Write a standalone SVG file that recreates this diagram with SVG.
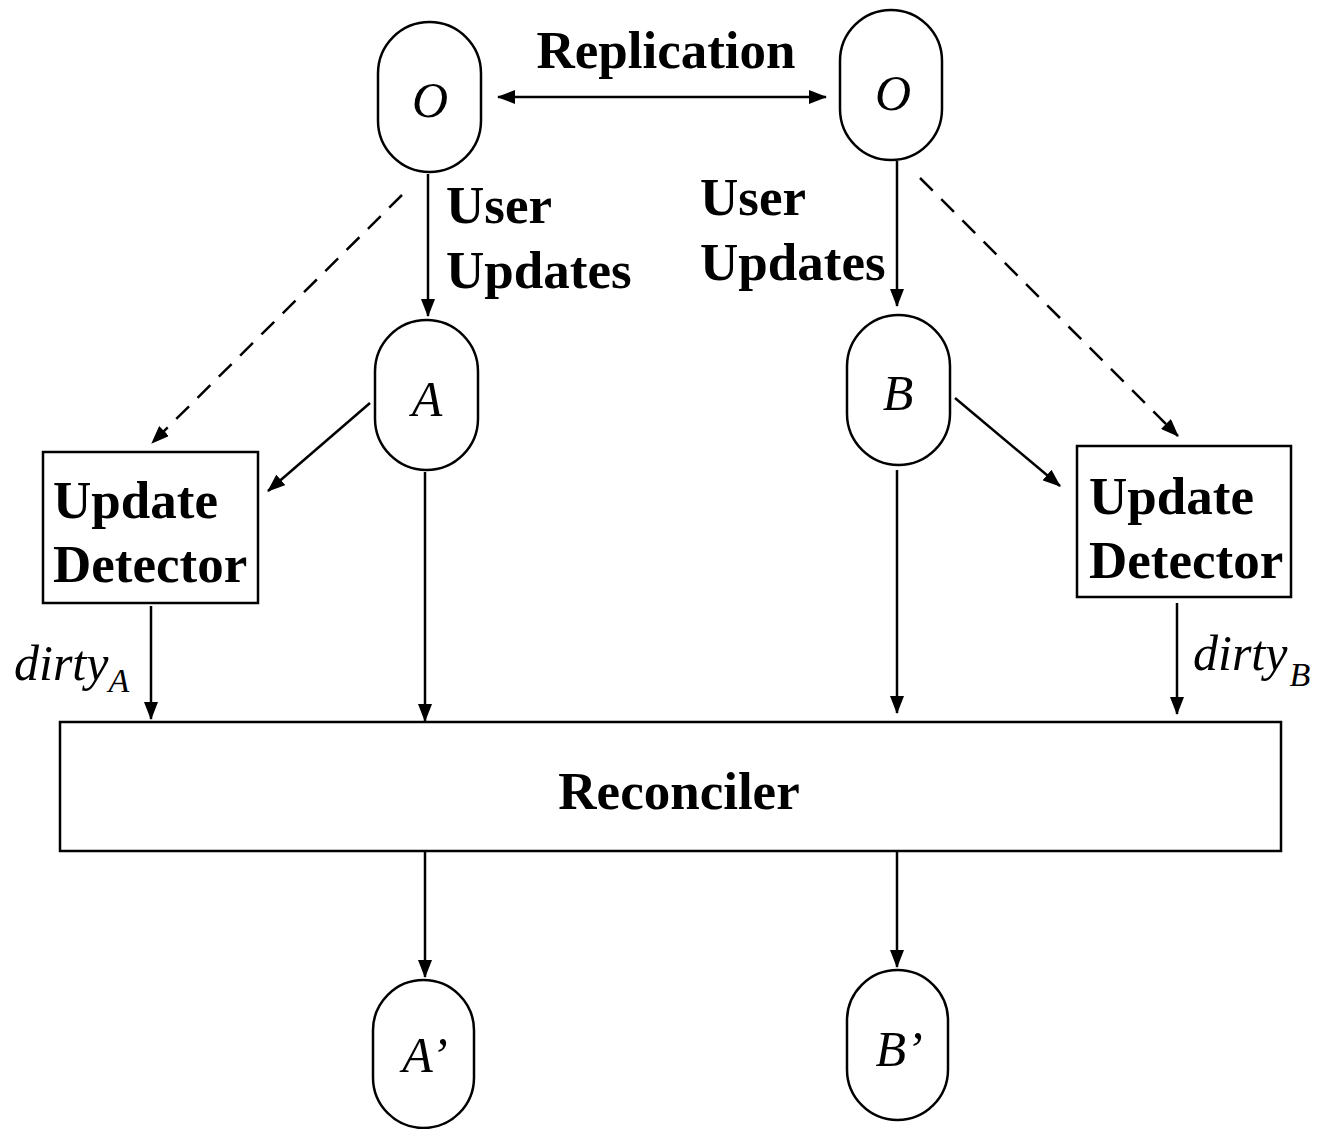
<svg xmlns="http://www.w3.org/2000/svg" width="1318" height="1129" viewBox="0 0 1318 1129">
<style>
.node{fill:#fff;stroke:#000;stroke-width:2.5}
.lbl{font-family:"Liberation Serif",serif;font-weight:bold;font-size:53px;fill:#000}
.it{font-family:"Liberation Serif",serif;font-style:italic;font-size:50px;fill:#000}
.edge{stroke:#000;stroke-width:2.5;fill:none;marker-end:url(#ah)}
.dash{stroke-dasharray:18 12}
</style>
<defs>
<marker id="ah" viewBox="0 0 18 14" refX="17" refY="7" markerWidth="18" markerHeight="14" markerUnits="userSpaceOnUse" orient="auto-start-reverse">
<path d="M0,0 L18,7 L0,14 z" fill="#000"/>
</marker>
</defs>
<rect width="1318" height="1129" fill="#fff"/>
<g id="connectors">
<line class="edge" x1="498" y1="97" x2="826" y2="97" style="marker-start:url(#ah)"/>
<line class="edge" x1="428" y1="174" x2="428" y2="316"/>
<line class="edge" x1="897" y1="161" x2="897" y2="306"/>
<line class="edge dash" x1="402" y1="195" x2="152" y2="443"/>
<line class="edge dash" x1="920" y1="178" x2="1178" y2="436"/>
<line class="edge" x1="370" y1="403" x2="268" y2="491"/>
<line class="edge" x1="955" y1="398" x2="1060" y2="486"/>
<line class="edge" x1="151" y1="606" x2="151" y2="719"/>
<line class="edge" x1="425" y1="472" x2="425" y2="721"/>
<line class="edge" x1="897" y1="470" x2="897" y2="713"/>
<line class="edge" x1="1177" y1="603" x2="1177" y2="714"/>
<line class="edge" x1="425" y1="852" x2="425" y2="977"/>
<line class="edge" x1="897" y1="843" x2="897" y2="967"/>
</g>
<g id="O_left"><rect class="node" x="378" y="22" width="103" height="150" rx="51.5" ry="51.5"/><text class="it" x="430" y="117" text-anchor="middle">O</text></g>
<g id="O_right"><rect class="node" x="840" y="10" width="102" height="150" rx="51" ry="51"/><text class="it" x="893" y="110" text-anchor="middle">O</text></g>
<g id="replication_label"><text class="lbl" x="666" y="68" text-anchor="middle">Replication</text></g>
<g id="user_updates_left"><text class="lbl" x="446" y="223">User</text><text class="lbl" x="446" y="288">Updates</text></g>
<g id="user_updates_right"><text class="lbl" x="700" y="215">User</text><text class="lbl" x="700" y="280">Updates</text></g>
<g id="A"><rect class="node" x="375" y="320" width="103" height="150" rx="51.5" ry="51.5"/><text class="it" x="427" y="416" text-anchor="middle">A</text></g>
<g id="B"><rect class="node" x="847" y="315" width="103" height="150" rx="51.5" ry="51.5"/><text class="it" x="898" y="410" text-anchor="middle">B</text></g>
<g id="detector_A"><rect class="node" x="43" y="452" width="215" height="151"/><text class="lbl" x="53" y="518">Update</text><text class="lbl" x="53" y="582">Detector</text></g>
<g id="detector_B"><rect class="node" x="1077" y="446" width="214" height="151"/><text class="lbl" x="1089" y="514">Update</text><text class="lbl" x="1089" y="578">Detector</text></g>
<g id="dirty_A"><text class="it" x="14" y="680" font-size="48">dirty<tspan font-size="34" dx="0" dy="12">A</tspan></text></g>
<g id="dirty_B"><text class="it" x="1193" y="670" font-size="48">dirty<tspan font-size="34" dx="2" dy="16">B</tspan></text></g>
<g id="reconciler"><rect class="node" x="60" y="722" width="1221" height="129"/><text class="lbl" x="679" y="809" text-anchor="middle">Reconciler</text></g>
<g id="A_prime"><rect class="node" x="373" y="980" width="101" height="148" rx="50.5" ry="50.5"/><text class="it" x="425" y="1072" text-anchor="middle">A’</text></g>
<g id="B_prime"><rect class="node" x="847" y="970" width="101" height="150" rx="50.5" ry="50.5"/><text class="it" x="899" y="1066" text-anchor="middle">B’</text></g>
</svg>
